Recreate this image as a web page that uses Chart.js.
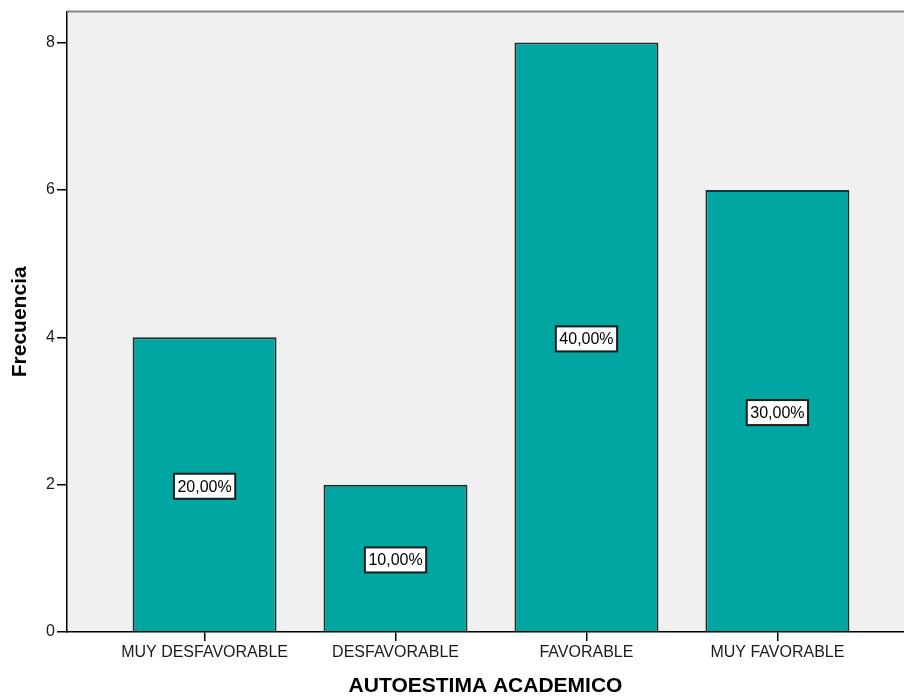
<!DOCTYPE html>
<html><head><meta charset="utf-8">
<script src="https://cdn.jsdelivr.net/npm/chart.js@4/dist/chart.umd.min.js"></script>
<style>html,body{margin:0;padding:0;background:#fff;overflow:hidden}</style>
</head><body><canvas id="c" width="904" height="697"></canvas>
<script>
const categories = ['MUY DESFAVORABLE', 'DESFAVORABLE', 'FAVORABLE', 'MUY FAVORABLE'];
const frequencies = [4, 2, 8, 6];
const yTicks = [0, 2, 4, 6, 8];
const xTitle = 'AUTOESTIMA ACADEMICO';
const yTitle = 'Frecuencia';

const FONT = "'Liberation Sans', Arial, sans-serif";
const total = frequencies.reduce((a, b) => a + b, 0);
const pctText = v => (v / total * 100).toFixed(2).replace('.', ',') + '%';

const bgPlugin = {
  id: 'bg',
  beforeDraw(chart) {
    const { ctx, chartArea: a } = chart;
    ctx.save();
    ctx.fillStyle = '#f0f0f0';
    ctx.fillRect(a.left, a.top, a.right - a.left, a.bottom - a.top);
    ctx.restore();
  },
  afterDraw(chart) {
    const { ctx, chartArea: a } = chart;
    ctx.save();
    ctx.strokeStyle = '#858585';
    ctx.lineWidth = 2;
    ctx.beginPath();
    ctx.moveTo(a.left, a.top);
    ctx.lineTo(a.right, a.top);
    ctx.stroke();
    ctx.restore();
  }
};

const labelPlugin = {
  id: 'pctLabels',
  afterDatasetsDraw(chart) {
    const { ctx } = chart;
    const meta = chart.getDatasetMeta(0);
    ctx.save();
    ctx.font = '16px ' + FONT;
    meta.data.forEach((bar, i) => {
      const t = pctText(frequencies[i]);
      const x = bar.x;
      const y = (bar.y + bar.base) / 2 + 2;
      const w = ctx.measureText(t).width + 7;
      const h = 25;
      ctx.fillStyle = '#ffffff';
      ctx.fillRect(x - w / 2, y - h / 2, w, h);
      ctx.strokeStyle = '#1c1c1c';
      ctx.lineWidth = 2;
      ctx.strokeRect(x - w / 2, y - h / 2, w, h);
      ctx.fillStyle = '#000000';
      ctx.textAlign = 'center';
      ctx.textBaseline = 'middle';
      ctx.fillText(t, x, y + 1);
    });
    ctx.restore();
  }
};

new Chart(document.getElementById('c'), {
  type: 'bar',
  data: {
    datasets: [{
      data: frequencies.map((v, i) => ({ x: i, y: v })),
      backgroundColor: '#00a6a1',
      borderColor: '#183232',
      borderWidth: 2,
      barPercentage: 0.754,
      categoryPercentage: 1
    }]
  },
  options: {
    responsive: false,
    animation: false,
    devicePixelRatio: 1,
    layout: { padding: { top: 10, right: 0, left: 0, bottom: 0 } },
    plugins: { legend: { display: false }, tooltip: { enabled: false } },
    scales: {
      x: {
        type: 'linear',
        offset: false,
        min: -0.7205,
        max: 3.663,
        afterBuildTicks: s => { s.ticks = categories.map((_, i) => ({ value: i })); },
        afterFit: s => { s.height = 65; },
        ticks: {
          callback: (v, i) => categories[i],
          color: '#1a1a1a',
          font: { size: 16, family: FONT },
          padding: 2,
          autoSkip: false,
          maxRotation: 0
        },
        grid: { offset: false, drawOnChartArea: false, drawTicks: true, tickLength: 9, color: '#000', lineWidth: 1.5 },
        border: { display: true, color: '#000', width: 1.5 },
        title: {
          display: true, text: xTitle, color: '#000',
          font: { size: 21, weight: 'bold', family: FONT, lineHeight: 1 },
          padding: { top: 0, bottom: 0 }
        }
      },
      y: {
        min: 0,
        max: 8.42,
        afterBuildTicks: s => { s.ticks = yTicks.map(v => ({ value: v })); },
        afterFit: s => { s.width = 67; },
        ticks: { color: '#1a1a1a', font: { size: 16, family: FONT }, padding: 2 },
        grid: { drawOnChartArea: false, drawTicks: true, tickLength: 10, color: '#000', lineWidth: 1.5 },
        border: { display: true, color: '#000', width: 1.5 },
        title: {
          display: true, text: yTitle, color: '#000',
          font: { size: 21, weight: 'bold', family: FONT, lineHeight: 1 },
          padding: { top: 10, bottom: 0 }
        }
      }
    }
  },
  plugins: [bgPlugin, labelPlugin]
});
</script>
</body></html>
